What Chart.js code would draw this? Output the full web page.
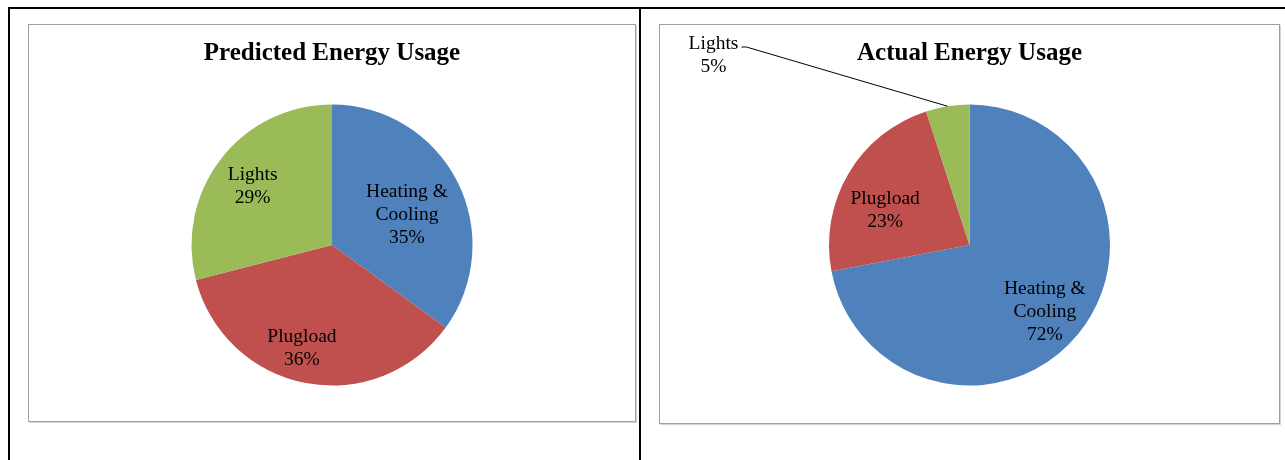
<!DOCTYPE html>
<html>
<head>
<meta charset="utf-8">
<script src="https://cdn.jsdelivr.net/npm/chart.js@4"></script>
<style>
  html, body { margin: 0; padding: 0; background: #fff; }
  body { width: 1285px; height: 460px; position: relative; overflow: hidden; }
  .rule { position: absolute; background: #000; }
  .box { position: absolute; border: 1px solid #a0a0a0; box-shadow: 1px 1px 0 #d4d4d4; box-sizing: border-box; }
  canvas { position: absolute; }
</style>
</head>
<body>
<div class="rule" style="left:8px; top:7px; width:1277px; height:2px;"></div>
<div class="rule" style="left:8px; top:7px; width:2px; height:453px;"></div>
<div class="rule" style="left:639px; top:7px; width:2px; height:453px;"></div>

<div class="box" style="left:28px; top:24px; width:608px; height:398px;"></div>
<div class="box" style="left:659px; top:24px; width:621px; height:400px;"></div>

<canvas id="predicted" width="608" height="398" style="left:28px; top:24px;"></canvas>
<canvas id="actual" width="621" height="400" style="left:659px; top:24px;"></canvas>

<script>
// categories and values (percent of total)
const categories = [['Heating &', 'Cooling'], 'Plugload', 'Lights'];
const predicted = [35, 36, 29];
const actual = [72, 23, 5];
const colors = ['#4F81BD', '#C0504D', '#9BBB59'];

const labelFont = '19.5px "Liberation Serif", "Times New Roman", serif';

// draws "category / value%" text on each slice, or outside with a leader line
// place[i] = [fraction of radius, angle shift in degrees from the slice middle]
const sliceLabels = {
    id: 'sliceLabels',
    afterDatasetsDraw(chart, args, opts) {
        const ctx = chart.ctx;
        const meta = chart.getDatasetMeta(0);
        const values = chart.data.datasets[0].data;
        ctx.save();
        ctx.font = labelFont;
        ctx.fillStyle = '#000';
        ctx.textAlign = 'center';
        ctx.textBaseline = 'middle';
        meta.data.forEach((arc, i) => {
            const p = arc.getProps(['x', 'y', 'startAngle', 'endAngle', 'outerRadius'], true);
            const mid = (p.startAngle + p.endAngle) / 2;
            const name = chart.data.labels[i];
            const lines = (Array.isArray(name) ? name.slice() : [name]);
            lines.push(values[i] + '%');
            const lh = 23;
            const out = opts.outside && opts.outside.index === i ? opts.outside : null;
            let cx, cy;
            if (out) {
                cx = p.x + out.dx;
                cy = p.y + out.dy;
            } else {
                const pl = (opts.place && opts.place[i]) || [0.68, 0];
                const a = mid + pl[1] * Math.PI / 180;
                const r = p.outerRadius * pl[0];
                cx = p.x + Math.cos(a) * r;
                cy = p.y + Math.sin(a) * r + 2;
            }
            const top = cy - (lines.length - 1) * lh / 2;
            lines.forEach((t, k) => ctx.fillText(t, cx, top + k * lh));
            if (out) {
                const w = ctx.measureText(lines[0]).width;
                const sx = cx + w / 2 + 3;
                const sy = top + 3;
                const ex = p.x + Math.cos(mid) * p.outerRadius;
                const ey = p.y + Math.sin(mid) * p.outerRadius;
                ctx.strokeStyle = '#000';
                ctx.lineWidth = 1;
                ctx.beginPath();
                ctx.moveTo(sx, sy);
                ctx.lineTo(sx + 5, sy);
                ctx.lineTo(ex, ey);
                ctx.stroke();
            }
        });
        ctx.restore();
    }
};

function makePie(id, title, values, bottomPad, place, outside) {
    new Chart(document.getElementById(id), {
        type: 'pie',
        data: {
            labels: categories,
            datasets: [{
                data: values,
                backgroundColor: colors,
                borderWidth: 0,
                hoverOffset: 0,
                offset: 0
            }]
        },
        options: {
            responsive: false,
            animation: false,
            devicePixelRatio: 1,
            layout: { padding: { top: 0, bottom: bottomPad, left: 0, right: 0 } },
            plugins: {
                legend: { display: false },
                tooltip: { enabled: false },
                title: {
                    display: true,
                    text: title,
                    color: '#000',
                    font: { family: '"Liberation Serif", "Times New Roman", serif', size: 25, weight: 'bold', lineHeight: 1.2 },
                    padding: { top: 15, bottom: 35.5 }
                },
                sliceLabels: { place: place, outside: outside }
            }
        },
        plugins: [sliceLabels]
    });
}

makePie('predicted', 'Predicted Energy Usage', predicted, 36.5,
    [[0.58, 3.9], [0.753, 5.7], [0.71, -0.5]], null);
makePie('actual', 'Actual Energy Usage', actual, 38.5,
    [[0.71, 1.3], [0.653, -7.4], [0.7, 0]], { index: 2, dx: -256, dy: -189.5 });
</script>
</body>
</html>
